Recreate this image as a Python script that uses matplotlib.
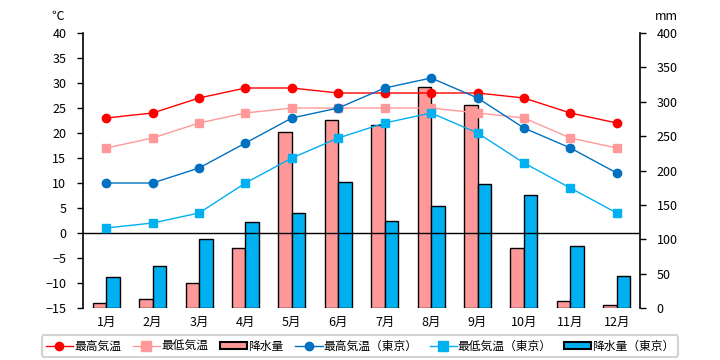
import numpy as np
import matplotlib.pyplot as plt
from matplotlib.lines import Line2D
from matplotlib.patches import Patch

plt.rcParams['font.family'] = ['Noto Sans CJK JP', 'DejaVu Sans']

months = ['1月', '2月', '3月', '4月', '5月', '6月', '7月', '8月', '9月', '10月', '11月', '12月']

# local city
max_temp = [23, 24, 27, 29, 29, 28, 28, 28, 28, 27, 24, 22]
min_temp = [17, 19, 22, 24, 25, 25, 25, 25, 24, 23, 19, 17]
rain = [7, 13, 36, 87, 256, 273, 266, 322, 295, 87, 10, 4]

# Tokyo
tk_max_temp = [10, 10, 13, 18, 23, 25, 29, 31, 27, 21, 17, 12]
tk_min_temp = [1, 2, 4, 10, 15, 19, 22, 24, 20, 14, 9, 4]
tk_rain = [45, 61, 100, 125, 138, 184, 126, 148, 180, 164, 90, 46]

x = np.arange(len(months))

fig = plt.figure(figsize=(7.2, 3.6), dpi=100)
ax = fig.add_axes([83/720, 52/360, 557/720, 275/360])
ax2 = ax.twinx()

# bars on the precipitation axis, behind the lines
w = 0.29
ax2.bar(x - w/2, rain, w, color='#FF9999', edgecolor='black', linewidth=1, zorder=2)
ax2.bar(x + w/2, tk_rain, w, color='#00B0F0', edgecolor='black', linewidth=1, zorder=2)
ax2.set_ylim(0, 400)
ax2.set_yticks(range(0, 401, 50))
ax2.set_facecolor('#FFFFCC')

ax.set_zorder(ax2.get_zorder() + 1)
ax.patch.set_visible(False)

ax.axhline(0, color='black', linewidth=1, zorder=1)
ax.plot(x, max_temp, color='#FF0000', marker='o', ms=6, lw=1)
ax.plot(x, min_temp, color='#FF9999', marker='s', ms=6, lw=1)
ax.plot(x, tk_max_temp, color='#0070C0', marker='o', ms=6, lw=1)
ax.plot(x, tk_min_temp, color='#00B0F0', marker='s', ms=6, lw=1)

ax.set_xlim(-0.5, 11.5)
ax.set_ylim(-15, 40)
ax.set_yticks(range(-15, 41, 5))
ax.set_xticks(x)
ax.set_xticklabels(months)

for a in (ax, ax2):
    a.spines['top'].set_visible(False)
    a.spines['bottom'].set_visible(False)
ax.spines['right'].set_visible(False)
ax2.spines['left'].set_visible(False)
ax.spines['left'].set_linewidth(1.2)
ax2.spines['right'].set_linewidth(1.2)

ax.tick_params(axis='y', direction='out', length=4, width=1, labelsize=9, pad=8)
ax.tick_params(axis='x', length=0, labelsize=9, pad=6)
ax2.tick_params(axis='y', direction='out', length=4, width=1, labelsize=9, pad=8)

fig.text(58/720, 1 - 16/360, '℃', fontsize=9, ha='center', va='center')
fig.text(666/720, 1 - 16/360, 'mm', fontsize=9, ha='center', va='center')

handles = [
    Line2D([], [], color='#FF0000', marker='o', ms=6, lw=1),
    Line2D([], [], color='#FF9999', marker='s', ms=7, lw=1),
    Patch(facecolor='#FF9999', edgecolor='black', linewidth=1.5),
    Line2D([], [], color='#0070C0', marker='o', ms=6, lw=1),
    Line2D([], [], color='#00B0F0', marker='s', ms=7, lw=1),
    Patch(facecolor='#00B0F0', edgecolor='black', linewidth=1.5),
]
labels = ['最高気温', '最低気温', '降水量', '最高気温（東京）', '最低気温（東京）', '降水量（東京）']
leg = fig.legend(handles, labels, loc='center', bbox_to_anchor=(360/720, 1 - 346/360),
                 ncol=6, fontsize=8.5, frameon=True, fancybox=True, handlelength=2.3,
                 handleheight=0.5, handletextpad=0.1, columnspacing=1.0, borderpad=0.35)
leg.get_frame().set_edgecolor('#C8C8C8')
leg.get_frame().set_linewidth(1.5)

fig.savefig('out.png', dpi=100)
